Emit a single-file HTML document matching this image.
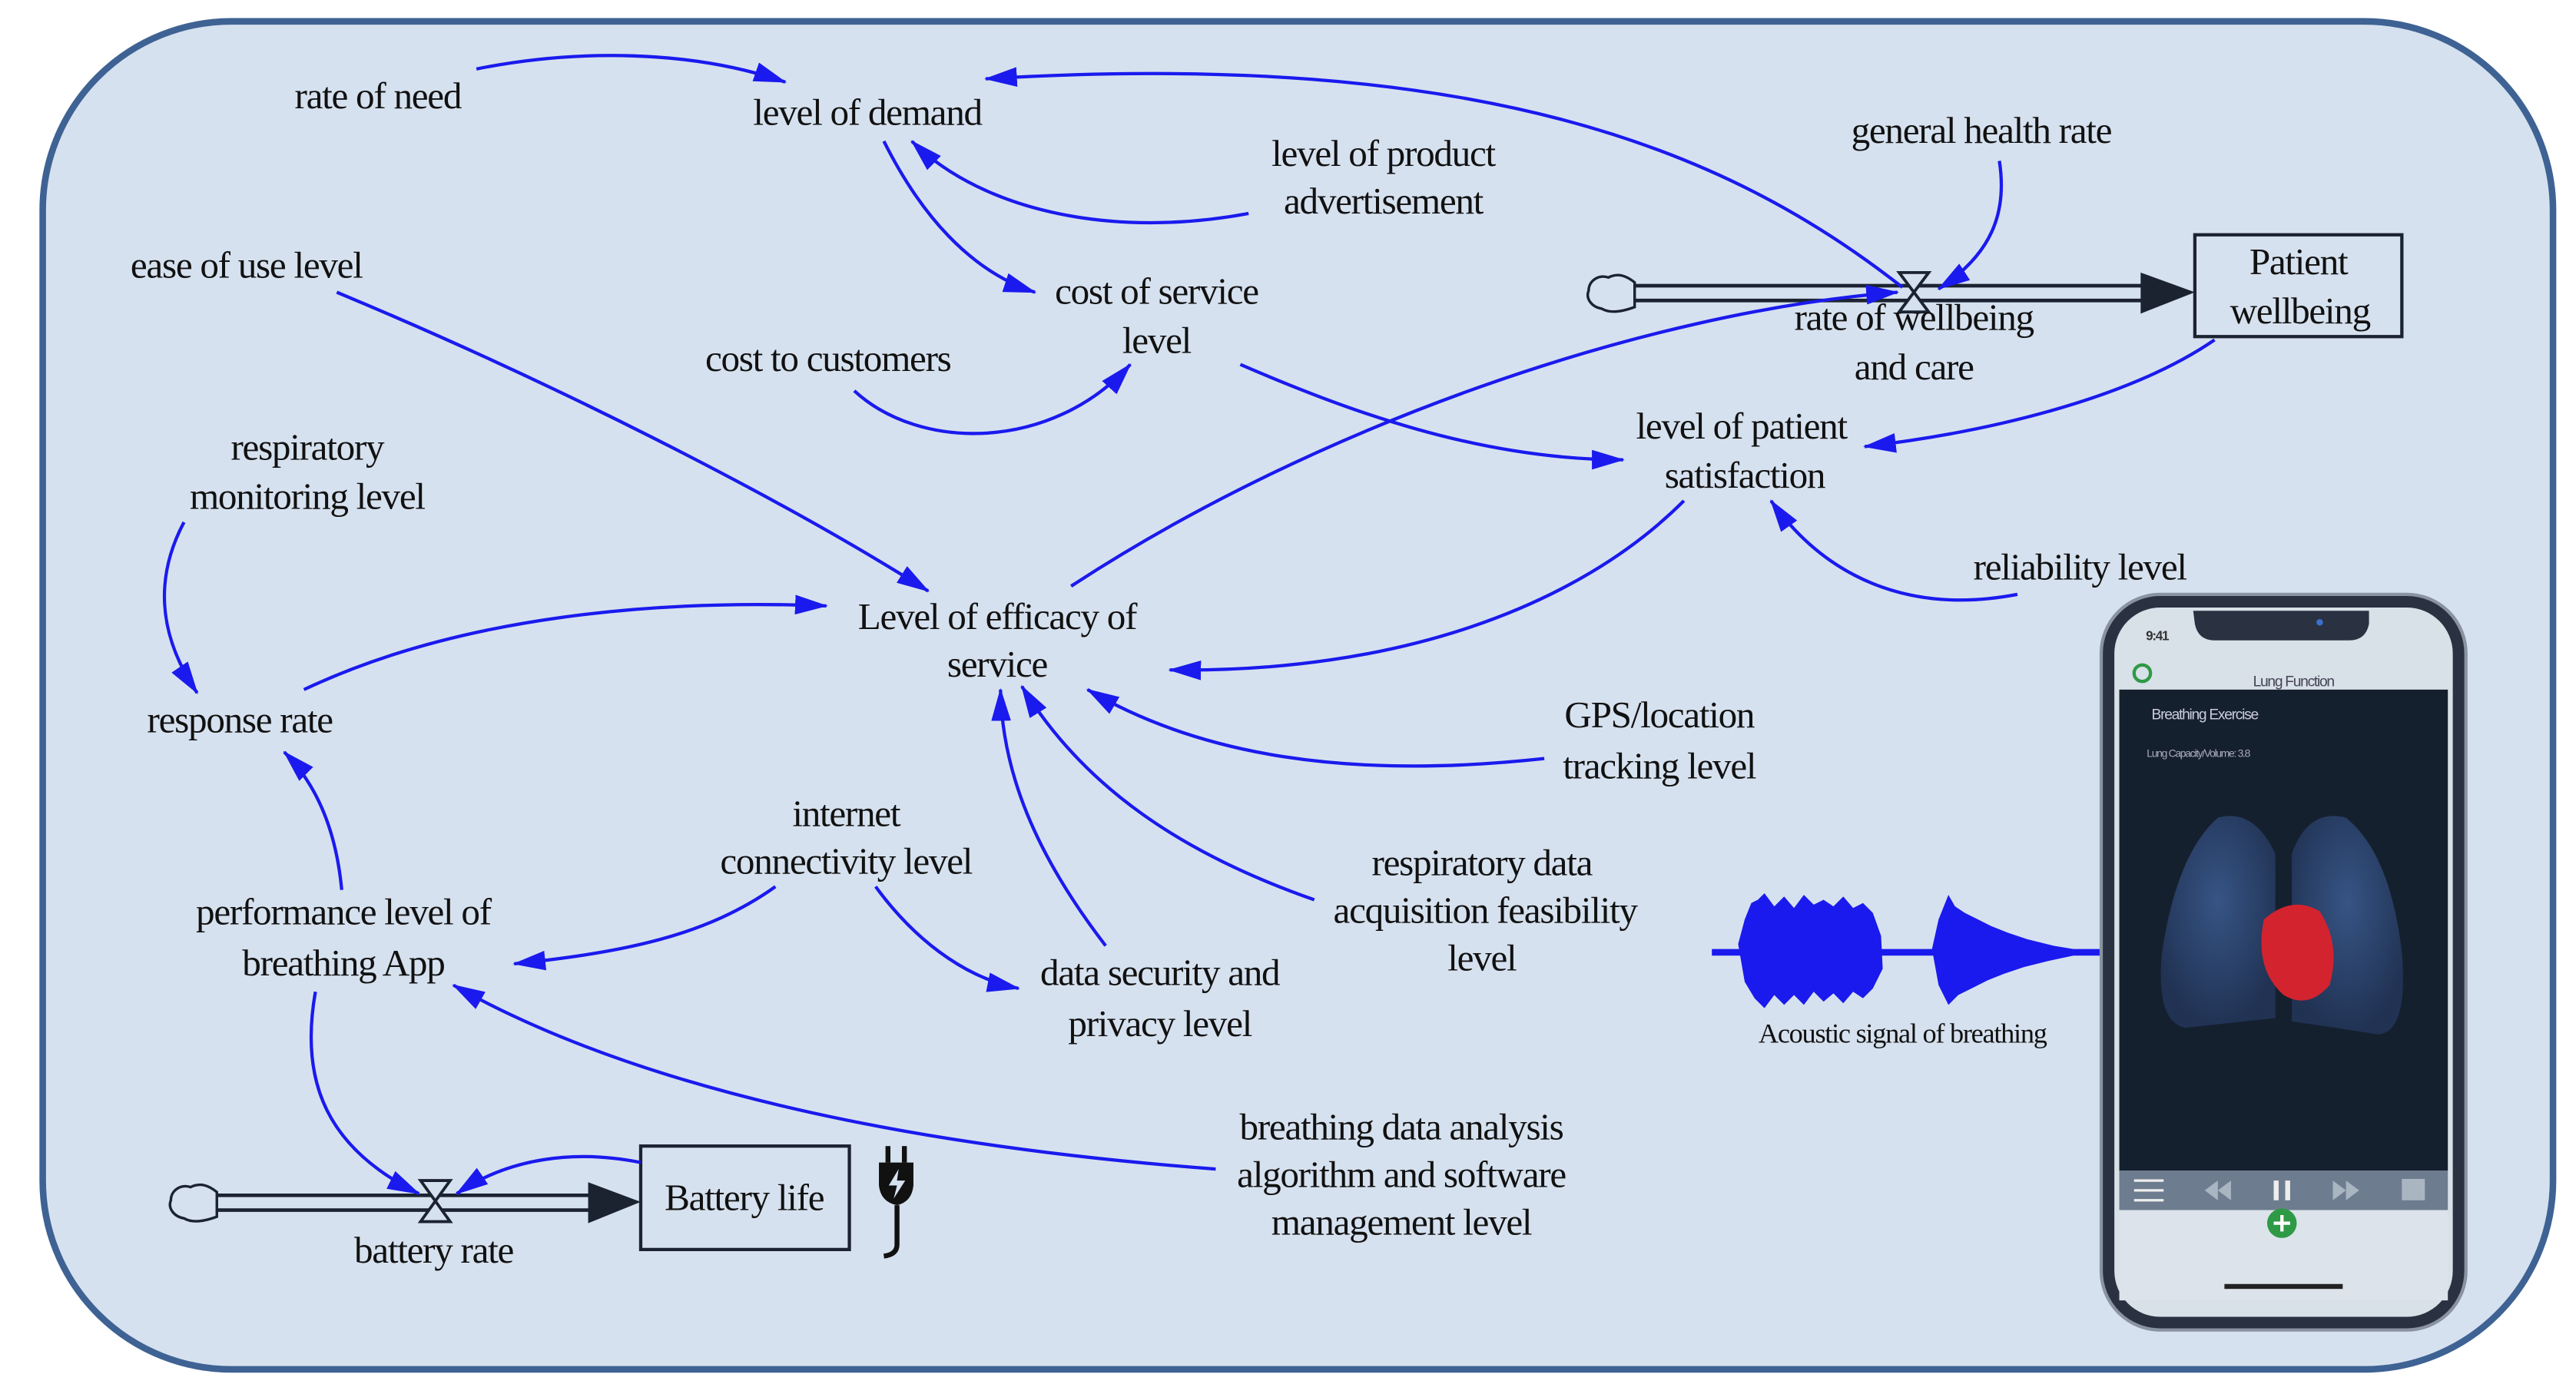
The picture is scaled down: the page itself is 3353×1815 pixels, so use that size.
<!DOCTYPE html>
<html><head><meta charset="utf-8"><style>
html,body{margin:0;padding:0;background:#fff;}
svg{display:block;}
text{font-family:"Liberation Serif",serif;font-size:23px;fill:#111;text-anchor:middle;letter-spacing:-0.6px;}
</style></head><body>
<svg width="3353" height="1815" viewBox="0 0 1568 849" preserveAspectRatio="none" xmlns="http://www.w3.org/2000/svg">
<defs>
<marker id="a" viewBox="0 0 20 12" refX="19" refY="6" markerWidth="20" markerHeight="12" markerUnits="userSpaceOnUse" orient="auto">
<path d="M0,0 L20,6 L0,12 Z" fill="#1a1aee"/></marker>
<radialGradient id="lg" cx="50%" cy="40%" r="60%"><stop offset="0" stop-color="#3a5a8e"/><stop offset="1" stop-color="#223457"/></radialGradient>
</defs>
<rect x="0" y="0" width="1568" height="849" fill="#fff"/>
<rect x="26" y="13" width="1528" height="821" rx="115" ry="115" fill="#d6e1ef" stroke="#3e6293" stroke-width="4"/>

<!-- flows -->
<g stroke="#1b2330" fill="none" stroke-width="2.2">
<line x1="995" y1="174" x2="1310" y2="174"/><line x1="995" y1="183" x2="1310" y2="183"/>
<path d="M995,172 c-5,-4 -10,-6 -16,-3 c-6,-2 -12,2 -12,8 c-2,5 2,10 8,11 c5,3 12,2 20,-1 z" stroke-width="1.6"/>
<path d="M1156,166 L1174,166 L1156,190 L1174,190 Z" stroke-width="1.8" fill="#d6e1ef"/>
<line x1="132" y1="728" x2="368" y2="728"/><line x1="132" y1="737" x2="368" y2="737"/>
<path d="M132,726 c-5,-4 -10,-6 -16,-3 c-6,-2 -12,2 -12,8 c-2,5 2,10 8,11 c5,3 12,2 20,-1 z" stroke-width="1.6"/>
<path d="M256,719 L274,719 L256,744 L274,744 Z" stroke-width="1.8" fill="#d6e1ef"/>
</g>
<path d="M1303,166 L1336,178 L1303,191 Z" fill="#1b2330"/>
<path d="M358,720 L390,732 L358,745 Z" fill="#1b2330"/>
<rect x="1336" y="143" width="126" height="62" fill="none" stroke="#1b2330" stroke-width="2"/>
<rect x="390" y="698" width="127" height="63" fill="none" stroke="#1b2330" stroke-width="2"/>

<!-- connectors -->
<g stroke="#1a1aee" stroke-width="2" fill="none" marker-end="url(#a)">
<path d="M290,42 C350,30 420,30 478,50"/>
<path d="M1158,175 C1050,90 900,30 600,48"/>
<path d="M760,130 C680,145 600,130 555,86"/>
<path d="M538,86 C560,130 590,165 630,178"/>
<path d="M1217,98 C1222,130 1212,155 1180,176"/>
<path d="M520,238 C560,275 640,275 688,222"/>
<path d="M205,178 C330,230 470,300 565,360"/>
<path d="M755,222 C820,250 900,280 988,280"/>
<path d="M652,357 C800,260 1000,190 1155,178"/>
<path d="M1348,207 C1300,240 1220,262 1135,272"/>
<path d="M1025,305 C960,370 850,410 712,408"/>
<path d="M1228,362 C1160,375 1110,350 1078,305"/>
<path d="M112,318 C95,350 95,385 120,422"/>
<path d="M185,420 C280,375 400,365 503,369"/>
<path d="M940,462 C820,475 730,460 662,420"/>
<path d="M800,548 C720,520 660,480 622,418"/>
<path d="M673,576 C630,520 610,470 609,420"/>
<path d="M472,540 C430,570 380,580 313,587"/>
<path d="M533,540 C555,570 585,595 620,602"/>
<path d="M208,542 C205,510 195,480 173,458"/>
<path d="M740,712 C580,700 400,670 276,600"/>
<path d="M192,604 C182,660 200,700 255,727"/>
<path d="M390,708 C350,700 310,705 278,727"/>
</g>

<!-- labels -->
<text x="230" y="66">rate of need</text>
<text x="528" y="76">level of demand</text>
<text x="842" y="101">level of product</text><text x="842" y="130">advertisement</text>
<text x="1206" y="87">general health rate</text>
<text x="150" y="169">ease of use level</text>
<text x="704" y="185">cost of service</text><text x="704" y="215">level</text>
<text x="504" y="226">cost to customers</text>
<text x="1165" y="201">rate of wellbeing</text><text x="1165" y="231">and care</text>
<text x="1399" y="167">Patient</text><text x="1400" y="197">wellbeing</text>
<text x="1060" y="267">level of patient</text><text x="1062" y="297">satisfaction</text>
<text x="187" y="280">respiratory</text><text x="187" y="310">monitoring level</text>
<text x="1266" y="353">reliability level</text>
<text x="607" y="383">Level of efficacy of</text><text x="607" y="412">service</text>
<text x="146" y="446">response rate</text>
<text x="1010" y="443">GPS/location</text><text x="1010" y="474">tracking level</text>
<text x="515" y="503">internet</text><text x="515" y="532">connectivity level</text>
<text x="902" y="533">respiratory data</text><text x="904" y="562">acquisition feasibility</text><text x="902" y="591">level</text>
<text x="209" y="563">performance level of</text><text x="209" y="594">breathing App</text>
<text x="706" y="600">data security and</text><text x="706" y="631">privacy level</text>
<text x="853" y="694">breathing data analysis</text><text x="853" y="723">algorithm and software</text><text x="853" y="752">management level</text>
<text x="453" y="737">Battery life</text>
<text x="264" y="769">battery rate</text>
<text x="1158" y="635" style="font-size:17px">Acoustic signal  of breathing</text>

<!-- plug -->
<g fill="#111">
<rect x="539" y="698" width="3" height="10"/><rect x="549" y="698" width="3" height="10"/>
<path d="M535,708 L556,708 L556,722 Q555,732 546,734 Q536,732 535,722 Z"/>
<path d="M547,712 L541,722 L546,722 L544,730 L551,719 L546,719 Z" fill="#d6e1ef"/>
<path d="M546,734 L546,758 Q546,764 538,765" stroke="#111" stroke-width="3" fill="none"/>
</g>

<!-- waveform -->
<g stroke="#1a1aee" fill="#1a1aee">
<line x1="1042" y1="580" x2="1282" y2="580" stroke-width="4"/>
<path d="M1058,575 L1062,560 L1066,550 L1070,548 L1074,544 L1080,552 L1086,546 L1092,553 L1098,545 L1104,551 L1110,548 L1116,552 L1122,546 L1128,553 L1134,550 L1140,556 L1145,570 L1146,590 L1140,602 L1134,608 L1128,604 L1122,611 L1116,605 L1110,610 L1104,604 L1098,612 L1092,606 L1086,612 L1080,606 L1074,614 L1068,608 L1062,598 Z" stroke="none"/>
<path d="M1176,578 L1180,560 L1186,545 L1190,552 L1196,556 L1204,560 L1212,564 L1222,568 L1234,572 L1250,576 L1262,578 L1262,582 L1248,585 L1232,589 L1220,593 L1210,597 L1200,602 L1192,606 L1186,612 L1180,600 Z" stroke="none"/>
</g>

<!-- phone -->
<rect x="1279" y="362" width="222" height="448" rx="36" fill="#2a3140" stroke="#8a93a0" stroke-width="2"/>
<rect x="1287" y="370" width="206" height="432" rx="28" fill="#d8e0e8"/>
<rect x="1290" y="420" width="200" height="293" fill="#15202e"/>
<path d="M1335,372 L1442,372 L1442,380 Q1440,390 1430,390 L1348,390 Q1338,390 1336,380 Z" fill="#2a3140"/>
<circle cx="1412" cy="379" r="2" fill="#3b6fd0"/>
<text x="1313" y="390" style="font-family:'Liberation Sans',sans-serif;font-size:8px;font-weight:bold;fill:#333">9:41</text>
<circle cx="1304" cy="410" r="5" fill="none" stroke="#2e9a45" stroke-width="2"/>
<text x="1396" y="418" style="font-family:'Liberation Sans',sans-serif;font-size:9px;fill:#445">Lung Function</text>
<text x="1342" y="438" style="font-family:'Liberation Sans',sans-serif;font-size:9px;fill:#ccd">Breathing Exercise</text>
<text x="1338" y="461" style="font-family:'Liberation Sans',sans-serif;font-size:6.5px;fill:#aab">Lung Capacity/Volume: 3.8</text>
<path d="M1350,498 Q1325,520 1316,580 Q1312,622 1330,626 L1385,620 L1385,520 Q1372,492 1350,498 Z" fill="url(#lg)" opacity="0.9"/>
<path d="M1428,498 Q1455,520 1462,580 Q1466,628 1448,630 L1395,622 L1395,520 Q1405,492 1428,498 Z" fill="url(#lg)" opacity="0.9"/>
<path d="M1378,560 Q1395,545 1412,555 Q1425,575 1418,600 Q1405,615 1390,606 Q1372,590 1378,560 Z" fill="#d3232f"/>
<rect x="1290" y="713" width="200" height="24" fill="#6d7d8f"/>
<rect x="1290" y="737" width="200" height="55" fill="#dce3ea"/>
<circle cx="1389" cy="745" r="9" fill="#2e9a45"/>
<path d="M1384,745 L1394,745 M1389,740 L1389,750" stroke="#fff" stroke-width="2"/>
<rect x="1384" y="719" width="3" height="12" fill="#eee"/><rect x="1391" y="719" width="3" height="12" fill="#eee"/>
<path d="M1342,725 L1350,719 L1350,731 Z M1350,725 L1358,719 L1358,731 Z" fill="#aab5c2"/>
<path d="M1420,719 L1428,725 L1420,731 Z M1428,719 L1436,725 L1428,731 Z" fill="#aab5c2"/>
<rect x="1462" y="718" width="14" height="13" fill="#aab5c2"/>
<path d="M1299,719 H1317 M1299,725 H1317 M1299,731 H1317" stroke="#eee" stroke-width="1.5"/>
<rect x="1354" y="782" width="72" height="3" fill="#222"/>
</svg>
</body></html>
